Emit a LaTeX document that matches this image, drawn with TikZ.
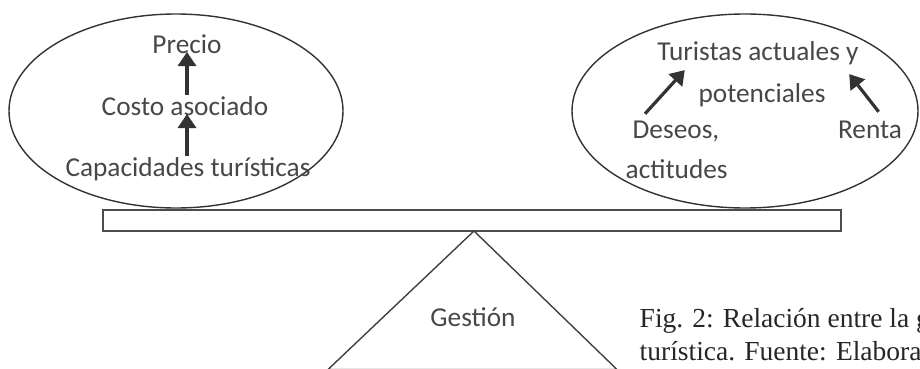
\documentclass[tikz,border=0pt]{standalone}
\usepackage{fontspec}
\setmainfont{Carlito}
\newfontfamily\capfont{Liberation Serif}
\usetikzlibrary{arrows.meta}

\begin{document}
\begin{tikzpicture}[
    x=1pt, y=-1pt,
    every node/.style={inner sep=0pt, text=black!72, font=\fontsize{27.3}{32}\selectfont},
    arr/.style={-{Triangle[width=18pt, length=14pt]}, line width=3.2pt, black!80},
    capline/.style={anchor=base west, text=black!85, font=\capfont\fontsize{27.5}{33}\selectfont},
    line width=1.4pt, draw=black!80
  ]
    \useasboundingbox (0,0) rectangle (920,369);
    % the two pans
    \draw (176,111) ellipse [x radius=167, y radius=97];
    \draw (745,111) ellipse [x radius=173, y radius=97];
    % beam and pivot
    \draw[line width=1.8pt, black!70] (103,210) rectangle (841,231);
    \draw[black!75] (328,369.5) -- (474,231) -- (617,369.5) -- cycle;
    \node[anchor=base] (ges) at (473,326) {Gestión};

    \node[anchor=base] (prec) at (187,53) {Precio};
    \node[anchor=base] (cost) at (185,115) {Costo asociado};
    \node[anchor=base] (capa) at (188,176) {Capacidades turísticas};
    \draw[arr, shorten >=-1pt] (prec.base |- cost.north) -- (prec.base);
    \draw[arr, shorten >=-1pt] (prec.base |- capa.north) -- (prec.base |- cost.base);

    \node[anchor=base] (tur1) at (758,60) {Turistas actuales y};
    \node[anchor=base] (tur2) at (762,102) {potenciales};
    \node[anchor=base west] (dese) at (632,138) {Deseos,};
    \node[anchor=base west] (acti) at (625,178) {actitudes};
    \node[anchor=base] (rent) at (870,138) {Renta};
    \draw[arr] ([shift={(13,-6)}]dese.north west) -- ([shift={(28,5)}]tur1.south west);
    \draw[arr] ([shift={(-24,-8)}]rent.north east) -- ([shift={(-10,9)}]tur1.south east);

    \node[capline] (cap1) at (639,327) {Fig. 2: Relación entre la ge};
    \node[capline] (cap2) at (639,360) {turística. Fuente: Elabora};
  \end{tikzpicture}
\end{document}
